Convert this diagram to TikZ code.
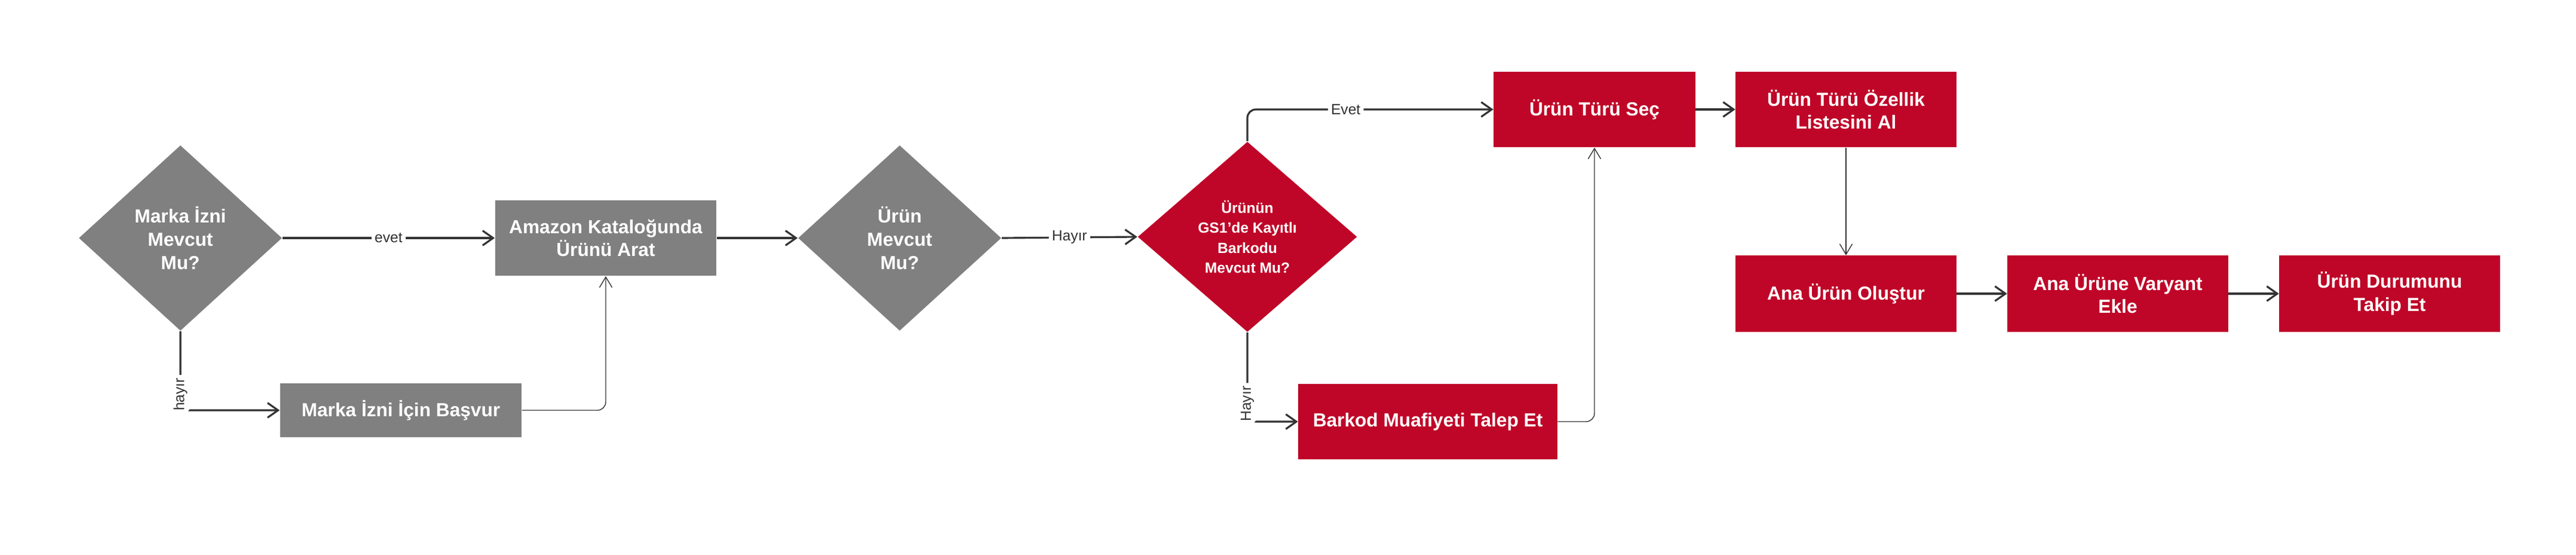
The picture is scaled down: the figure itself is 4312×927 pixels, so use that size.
\documentclass[tikz,border=0pt]{standalone}
\usepackage{fontspec}
\setmainfont{Liberation Sans}
\usetikzlibrary{shapes.geometric,arrows.meta}
\definecolor{akisgri}{HTML}{808080}
\definecolor{akiskirmizi}{HTML}{BF0628}
\definecolor{cizgi}{HTML}{333333}
\tikzset{
    kutu/.style={rectangle, fill=#1, text=white, font=\bfseries\fontsize{9}{11}\selectfont, align=center, inner sep=2pt},
    karar/.style={diamond, fill=#1, text=white, font=\bfseries\fontsize{9}{11}\selectfont, align=center, inner sep=0pt, minimum width=3.4cm, minimum height=3.1cm},
    ok/.style={draw=cizgi, line width=0.9pt, -{Straight Barb[length=5pt,width=7pt]}, rounded corners=4pt},
    inceok/.style={draw=cizgi, line width=0.4pt, -{Straight Barb[length=5pt,width=6pt]}, rounded corners=4pt},
    etiket/.style={fill=white, text=cizgi, font=\fontsize{7}{8}\selectfont, inner sep=1.5pt}
}
\begin{document}
\begin{tikzpicture}[x=0.01cm,y=-0.01cm]
    \useasboundingbox (0,0) rectangle (4312,927);

    % gri adimlar
    \node[karar=akisgri] (izin) at (302,398) {Marka İzni\\Mevcut\\Mu?};
    \node[kutu=akisgri, minimum width=3.7cm, minimum height=1.26cm] (arat) at (1014,398) {Amazon Kataloğunda\\Ürünü Arat};
    \node[karar=akisgri] (mevcut) at (1506,398) {Ürün\\Mevcut\\Mu?};
    \node[kutu=akisgri, minimum width=4.04cm, minimum height=0.89cm] (basvur) at (671,686) {Marka İzni İçin Başvur};

    % kirmizi adimlar
    \node[karar=akiskirmizi, minimum width=3.67cm, minimum height=3.18cm, font=\bfseries\fontsize{7}{9.5}\selectfont] (gs1) at (2088,396) {Ürünün\\GS1'de Kayıtlı\\Barkodu\\Mevcut Mu?};
    \node[kutu=akiskirmizi, minimum width=3.37cm, minimum height=1.26cm] (tur) at (2669,183) {Ürün Türü Seç};
    \node[kutu=akiskirmizi, minimum width=3.69cm, minimum height=1.26cm] (ozellik) at (3090,183) {Ürün Türü Özellik\\Listesini Al};
    \node[kutu=akiskirmizi, minimum width=3.69cm, minimum height=1.27cm] (ana) at (3090,491) {Ana Ürün Oluştur};
    \node[kutu=akiskirmizi, minimum width=3.69cm, minimum height=1.27cm] (varyant) at (3545,491) {Ana Ürüne Varyant\\Ekle};
    \node[kutu=akiskirmizi, minimum width=3.69cm, minimum height=1.27cm] (durum) at (4000,491) {Ürün Durumunu\\Takip Et};
    \node[kutu=akiskirmizi, minimum width=4.33cm, minimum height=1.26cm] (barkod) at (2390,705) {Barkod Muafiyeti Talep Et};

    % baglantilar
    \draw[ok] (izin.east) -- node[etiket] {evet} (arat.west);
    \draw[ok] (izin.south) |- node[etiket, rotate=90, pos=0.4] {hayır} (basvur.west);
    \draw[inceok] (basvur.east) -| (arat.south);
    \draw[ok] (arat.east) -- (mevcut.west);
    \draw[ok] (mevcut.east) -- node[etiket] {Hayır} (gs1.west);
    \draw[ok] (gs1.north) |- node[etiket, pos=0.7] {Evet} (tur.west);
    \draw[ok] (gs1.south) |- node[etiket, rotate=90, pos=0.4] {Hayır} (barkod.west);
    \draw[inceok] (barkod.east) -| (tur.south);
    \draw[ok] (tur.east) -- (ozellik.west);
    \draw[inceok] (ozellik.south) -- (ana.north);
    \draw[ok] (ana.east) -- (varyant.west);
    \draw[ok] (varyant.east) -- (durum.west);
\end{tikzpicture}
\end{document}
